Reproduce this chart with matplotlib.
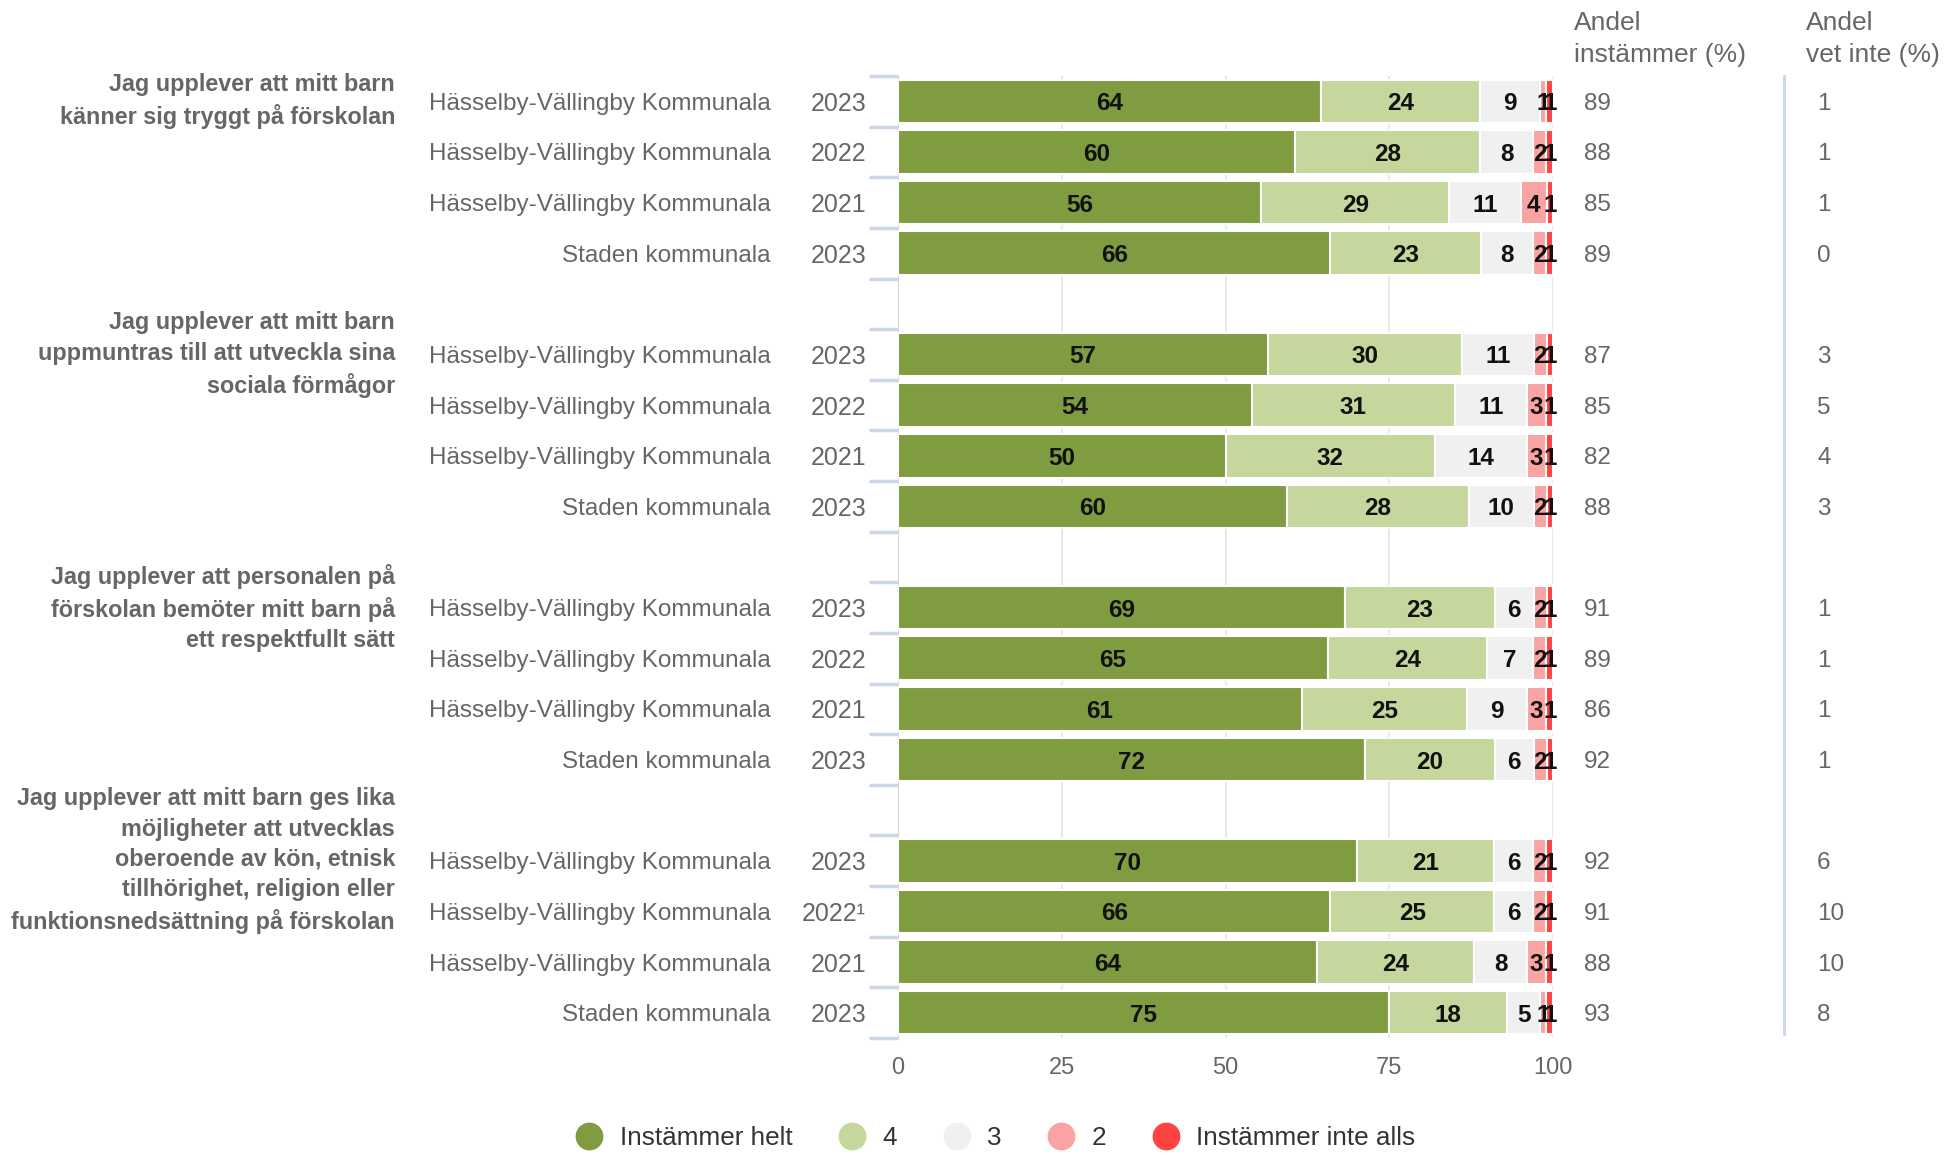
import numpy as np
import matplotlib
matplotlib.use("Agg")
import matplotlib.pyplot as plt
from matplotlib.lines import Line2D

plt.rcParams['font.family'] = ['Liberation Sans', 'DejaVu Sans']

# --- data -----------------------------------------------------------------
questions = [
    "Jag upplever att mitt barn\nkänner sig tryggt på förskolan",
    "Jag upplever att mitt barn\nuppmuntras till att utveckla sina\nsociala förmågor",
    "Jag upplever att personalen på\nförskolan bemöter mitt barn på\nett respektfullt sätt",
    "Jag upplever att mitt barn ges lika\nmöjligheter att utvecklas\noberoende av kön, etnisk\ntillhörighet, religion eller\nfunktionsnedsättning på förskolan",
]
units = ["Hässelby-Vällingby Kommunala", "Hässelby-Vällingby Kommunala",
         "Hässelby-Vällingby Kommunala", "Staden kommunala"]
years = [
    ["2023", "2022", "2021", "2023"],
    ["2023", "2022", "2021", "2023"],
    ["2023", "2022", "2021", "2023"],
    ["2023", "2022¹", "2021", "2023"],
]
series_names = ["Instämmer helt", "4", "3", "2", "Instämmer inte alls"]
colors = ["#7f9c40", "#c5d79d", "#f0f0f0", "#f9a3a3", "#ff4242"]

# rows: [helt, 4, 3, 2, inte alls]
values = [
    [[64, 24, 9, 1, 1], [60, 28, 8, 2, 1], [56, 29, 11, 4, 1], [66, 23, 8, 2, 1]],
    [[57, 30, 11, 2, 1], [54, 31, 11, 3, 1], [50, 32, 14, 3, 1], [60, 28, 10, 2, 1]],
    [[69, 23, 6, 2, 1], [65, 24, 7, 2, 1], [61, 25, 9, 3, 1], [72, 20, 6, 2, 1]],
    [[70, 21, 6, 2, 1], [66, 25, 6, 2, 1], [64, 24, 8, 3, 1], [75, 18, 5, 1, 1]],
]
andel_instammer = [[89, 88, 85, 89], [87, 85, 82, 88], [91, 89, 86, 92], [92, 91, 88, 93]]
andel_vet_inte = [[1, 1, 1, 0], [3, 5, 4, 3], [1, 1, 1, 1], [6, 10, 10, 8]]

# --- layout ---------------------------------------------------------------
W, H = 1959, 1156
fig = plt.figure(figsize=(W / 100, H / 100), dpi=100)
ax = fig.add_axes([898 / W, 1 - 1038 / H, (1553 - 898) / W, (1038 - 76) / H])

n_slots = len(questions) * 5 - 1
ax.set_ylim(n_slots - 0.5, -0.5)
ax.set_xlim(0, 100)

label_gray = "#666666"
fs = 17.5

for g, q in enumerate(questions):
    for r in range(4):
        y = g * 5 + r
        vals = np.array(values[g][r], dtype=float)
        widths = vals / vals.sum() * 100
        left = 0
        for k, w in enumerate(widths):
            ax.barh(y, w, left=left, height=0.86, color=colors[k],
                    edgecolor="white", linewidth=1.5, zorder=3)
            ax.text(left + w / 2, y, f"{int(vals[k])}", ha="center", va="center_baseline",
                    fontsize=17.5, fontweight="bold", color="#111111", zorder=4)
            left += w
        # row labels
        yf = ax.transData.transform((0, y))[1] / H
        fig.text(771 / W, yf, units[r], ha="right", va="center_baseline", fontsize=fs,
                 color=label_gray)
        fig.text(866 / W, yf, years[g][r], ha="right", va="center_baseline", fontsize=18,
                 color=label_gray)
        fig.text(1584 / W, yf, str(andel_instammer[g][r]), ha="left", va="center_baseline",
                 fontsize=fs, color=label_gray)
        fig.text(1817 / W, yf, str(andel_vet_inte[g][r]), ha="left", va="center_baseline",
                 fontsize=fs, color=label_gray)
    yq = ax.transData.transform((0, g * 5))[1] / H
    fig.text(395 / W, yq, q, ha="right", va="center", fontsize=16.8, fontweight="bold",
             color=label_gray, linespacing=1.4)

# axes styling
for s in ["top", "right", "bottom"]:
    ax.spines[s].set_visible(False)
ax.spines["left"].set_color("#d8d8d8")
ax.set_xticks([0, 25, 50, 75, 100])
ax.tick_params(axis="x", length=0, labelsize=17, labelcolor=label_gray, pad=14)
ax.set_yticks(np.arange(-0.5, n_slots, 1.0))
ax.set_yticklabels([])
ax.tick_params(axis="y", length=21, width=2.5, color="#ccd6eb")
ax.grid(axis="x", color="#e4e4e4", linewidth=1.2, zorder=0)
ax.set_axisbelow(True)

# right-hand columns
fig.text(1574 / W, 1 - 39 / H, "Andel\ninstämmer (%)", ha="left", va="center",
         fontsize=19, color=label_gray, linespacing=1.4)
fig.text(1806 / W, 1 - 39 / H, "Andel\nvet inte (%)", ha="left", va="center",
         fontsize=19, color=label_gray, linespacing=1.4)
fig.add_artist(Line2D([1784 / W, 1784 / W], [1 - 76 / H, 1 - 1034 / H],
                      color="#ccd6eb", linewidth=2))

# legend
handles = [Line2D([], [], marker="o", linestyle="none", markersize=19,
                  markerfacecolor=c, markeredgecolor=c) for c in colors]
fig.legend(handles, series_names, loc="center", bbox_to_anchor=(0.505, 1 - 1138 / H),
           ncol=5, frameon=False, fontsize=18.8, handletextpad=0.15, columnspacing=1.3,
           labelcolor="#333333")

fig.savefig("out.png", dpi=100)
